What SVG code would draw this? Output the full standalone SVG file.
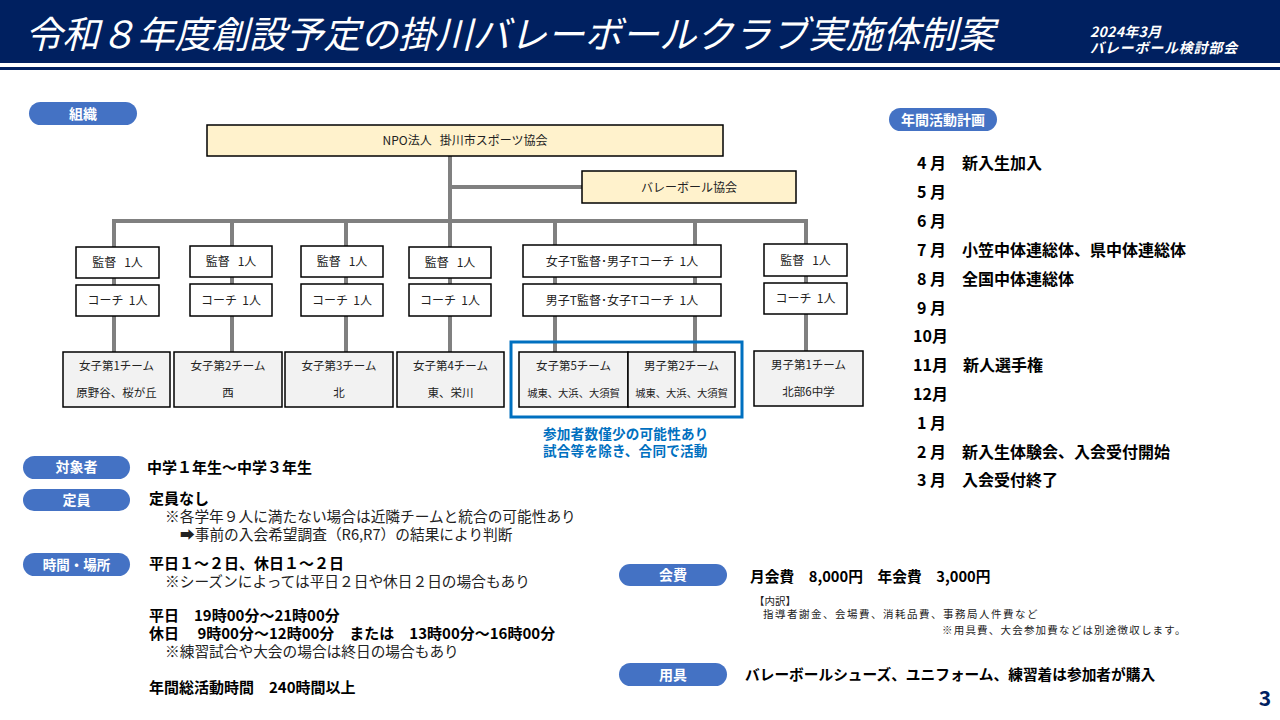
<svg xmlns="http://www.w3.org/2000/svg" width="1280" height="720" viewBox="0 0 1280 720">
<style>
text{font-family:"Noto Sans CJK JP","Noto Sans CJK SC",sans-serif;}
.title{fill:#fff;font-size:37.3px;font-style:italic;}
.sub{fill:#fff;font-size:14px;font-style:italic;font-weight:bold;}
.pill{fill:#4472C4;}
.pt{fill:#fff;font-size:14px;font-weight:bold;text-anchor:middle;}
.box{fill:#fff;stroke:#000;stroke-width:1.5;}
.ybox{fill:#FFF2CC;stroke:#000;stroke-width:1.5;}
.tbox{fill:#F2F2F2;stroke:#000;stroke-width:1.5;}
.ot{fill:#222;font-size:12px;text-anchor:middle;}
.tt{fill:#222;font-size:11.5px;text-anchor:middle;}
.conn{fill:none;stroke:#808080;stroke-width:4;}
.b{fill:#000;font-size:15px;font-weight:bold;}
.n{fill:#222;font-size:14.7px;}
.m{fill:#000;font-size:16px;font-weight:bold;}
.blue{fill:#0070C0;font-size:13.6px;font-weight:bold;}
.s{fill:#222;font-size:10.5px;}
</style>
<rect x="0" y="0" width="1280" height="63" fill="#002060"/>
<rect x="0" y="67" width="1280" height="3" fill="#002060"/>
<text class="title" x="25" y="48">令和８年度創設予定の掛川バレーボールクラブ実施体制案</text>
<text class="sub" x="1090" y="37" style="letter-spacing:0.3px">2024年3月</text>
<text class="sub" x="1090" y="52.5" style="letter-spacing:0.8px">バレーボール検討部会</text>

<g id="connectors">
<path class="conn" d="M450 156 V352"/>
<path class="conn" d="M450 187 H582"/>
<path class="conn" d="M114 352 V221 H806 V352"/>
<path class="conn" d="M232 221 V352"/>
<path class="conn" d="M346 221 V352"/>
<path class="conn" d="M555 221 V352"/>
<path class="conn" d="M695 221 V352"/>
</g>

<g id="label-soshiki"><rect class="pill" x="29" y="102" width="108" height="23" rx="11.5"/><text class="pt" x="83" y="118.5">組織</text></g>

<g id="npo"><rect class="ybox" x="207" y="125" width="516" height="31"/><text class="ot" x="465" y="145" xml:space="preserve">NPO法人   掛川市スポーツ協会</text></g>
<g id="vb"><rect class="ybox" x="582" y="171" width="214" height="32"/><text class="ot" x="689" y="191.5">バレーボール協会</text></g>

<g id="coach1"><rect class="box" x="76" y="247" width="83" height="31"/><text class="ot" x="117.5" y="267" xml:space="preserve">監督   1人</text><rect class="box" x="76" y="285" width="83" height="31"/><text class="ot" x="117.5" y="305" xml:space="preserve">コーチ  1人</text></g>
<g id="coach2"><rect class="box" x="190" y="246" width="82" height="31"/><text class="ot" x="231" y="266" xml:space="preserve">監督   1人</text><rect class="box" x="190" y="284" width="82" height="32"/><text class="ot" x="231" y="304.5" xml:space="preserve">コーチ  1人</text></g>
<g id="coach3"><rect class="box" x="301" y="246" width="82" height="31"/><text class="ot" x="342" y="266" xml:space="preserve">監督   1人</text><rect class="box" x="301" y="284" width="82" height="32"/><text class="ot" x="342" y="304.5" xml:space="preserve">コーチ  1人</text></g>
<g id="coach4"><rect class="box" x="409" y="247" width="82" height="31"/><text class="ot" x="450" y="267" xml:space="preserve">監督   1人</text><rect class="box" x="409" y="284" width="82" height="32"/><text class="ot" x="450" y="304.5" xml:space="preserve">コーチ  1人</text></g>
<g id="coach5"><rect class="box" x="523" y="245" width="198" height="32"/><text class="ot" x="622" y="265.5" xml:space="preserve">女子T監督･男子Tコーチ  1人</text><rect class="box" x="523" y="284" width="198" height="32"/><text class="ot" x="622" y="304.5" xml:space="preserve">男子T監督･女子Tコーチ  1人</text></g>
<g id="coach6"><rect class="box" x="764" y="244" width="83" height="32"/><text class="ot" x="805.5" y="264.5" xml:space="preserve">監督   1人</text><rect class="box" x="764" y="283" width="83" height="31"/><text class="ot" x="805.5" y="303" xml:space="preserve">コーチ  1人</text></g>

<g id="team1"><rect class="tbox" x="63" y="352" width="107" height="55"/><text class="tt" x="116.5" y="370">女子第1チーム</text><text class="tt" x="116.5" y="397">原野谷、桜が丘</text></g>
<g id="team2"><rect class="tbox" x="174" y="352" width="108" height="55"/><text class="tt" x="228" y="370">女子第2チーム</text><text class="tt" x="228" y="397">西</text></g>
<g id="team3"><rect class="tbox" x="285" y="352" width="108" height="55"/><text class="tt" x="339" y="370">女子第3チーム</text><text class="tt" x="339" y="397">北</text></g>
<g id="team4"><rect class="tbox" x="397" y="352" width="107" height="55"/><text class="tt" x="450.5" y="370">女子第4チーム</text><text class="tt" x="450.5" y="397">東、栄川</text></g>
<g id="team5"><rect class="tbox" x="519" y="352" width="109" height="55"/><text class="tt" x="573.5" y="370">女子第5チーム</text><text class="tt" x="573.5" y="397" style="font-size:10.3px">城東、大浜、大須賀</text></g>
<g id="team6"><rect class="tbox" x="628" y="352" width="107" height="55"/><text class="tt" x="681.5" y="370">男子第2チーム</text><text class="tt" x="681.5" y="397" style="font-size:10.3px">城東、大浜、大須賀</text></g>
<g id="team7"><rect class="tbox" x="754" y="351" width="109" height="55"/><text class="tt" x="808.5" y="369">男子第1チーム</text><text class="tt" x="808.5" y="396">北部6中学</text></g>

<g id="joint-note">
<rect x="511" y="342" width="231" height="75" fill="none" stroke="#0070C0" stroke-width="3"/>
<text class="blue" x="543" y="439" style="letter-spacing:0.2px">参加者数僅少の可能性あり</text>
<text class="blue" x="543" y="456" style="letter-spacing:0.2px">試合等を除き、合同で活動</text>
</g>

<g id="plan">
<rect class="pill" x="889" y="108" width="108" height="23" rx="11.5"/><text class="pt" x="943" y="124.5">年間活動計画</text>
<text class="m" x="917" y="169">4 月</text><text class="m" x="962" y="169">新入生加入</text>
<text class="m" x="917" y="198">5 月</text>
<text class="m" x="917" y="227">6 月</text>
<text class="m" x="917" y="256">7 月</text><text class="m" x="962" y="256">小笠中体連総体、県中体連総体</text>
<text class="m" x="917" y="285">8 月</text><text class="m" x="962" y="285">全国中体連総体</text>
<text class="m" x="917" y="314">9 月</text>
<text class="m" x="913" y="342">10月</text>
<text class="m" x="913" y="371">11月</text><text class="m" x="963" y="371">新人選手権</text>
<text class="m" x="913" y="400">12月</text>
<text class="m" x="917" y="429">1 月</text>
<text class="m" x="917" y="458">2 月</text><text class="m" x="962" y="458">新入生体験会、入会受付開始</text>
<text class="m" x="917" y="486">3 月</text><text class="m" x="962" y="486">入会受付終了</text>
</g>

<g id="target">
<rect class="pill" x="23" y="456" width="107" height="23" rx="11.5"/><text class="pt" x="76.5" y="472">対象者</text>
<text class="b" x="147" y="472.5">中学１年生～中学３年生</text>
</g>
<g id="capacity">
<rect class="pill" x="23" y="489" width="107" height="22" rx="11"/><text class="pt" x="76.5" y="505">定員</text>
<text class="b" x="149" y="504">定員なし</text>
<text class="n" x="165" y="522">※各学年９人に満たない場合は近隣チームと統合の可能性あり</text>
<text class="n" x="180" y="540">➡事前の入会希望調査（R6,R7）の結果により判断</text>
</g>
<g id="time">
<rect class="pill" x="23" y="553" width="107" height="23" rx="11.5"/><text class="pt" x="76.5" y="569.5" style="font-size:13.5px">時間・場所</text>
<text class="b" x="149" y="569">平日１～２日、休日１～２日</text>
<text class="n" x="165" y="587">※シーズンによっては平日２日や休日２日の場合もあり</text>
<text class="b" x="149" y="621" xml:space="preserve">平日　19時00分～21時00分</text>
<text class="b" x="149" y="639" xml:space="preserve">休日　 9時00分～12時00分　または　13時00分～16時00分</text>
<text class="n" x="165" y="657">※練習試合や大会の場合は終日の場合もあり</text>
<text class="b" x="149" y="693" xml:space="preserve">年間総活動時間　240時間以上</text>
</g>
<g id="fee">
<rect class="pill" x="619" y="564" width="108" height="22" rx="11"/><text class="pt" x="673" y="580">会費</text>
<text class="b" x="750" y="582" style="font-size:14.7px" xml:space="preserve">月会費　8,000円　年会費　3,000円</text>
<text class="s" x="754" y="604.5">【内訳】</text>
<text class="s" x="763" y="618" style="letter-spacing:1.5px">指導者謝金、会場費、消耗品費、事務局人件費など</text>
<text class="s" x="942" y="634" style="letter-spacing:1.2px">※用具費、大会参加費などは別途徴収します。</text>
</g>
<g id="equipment">
<rect class="pill" x="619" y="663" width="108" height="23" rx="11.5"/><text class="pt" x="673" y="679.5">用具</text>
<text class="b" x="745" y="679.5" style="font-size:14.7px">バレーボールシューズ、ユニフォーム、練習着は参加者が購入</text>
</g>
<text x="1265" y="706" fill="#002060" font-size="21" font-weight="bold" text-anchor="middle">3</text>
</svg>
